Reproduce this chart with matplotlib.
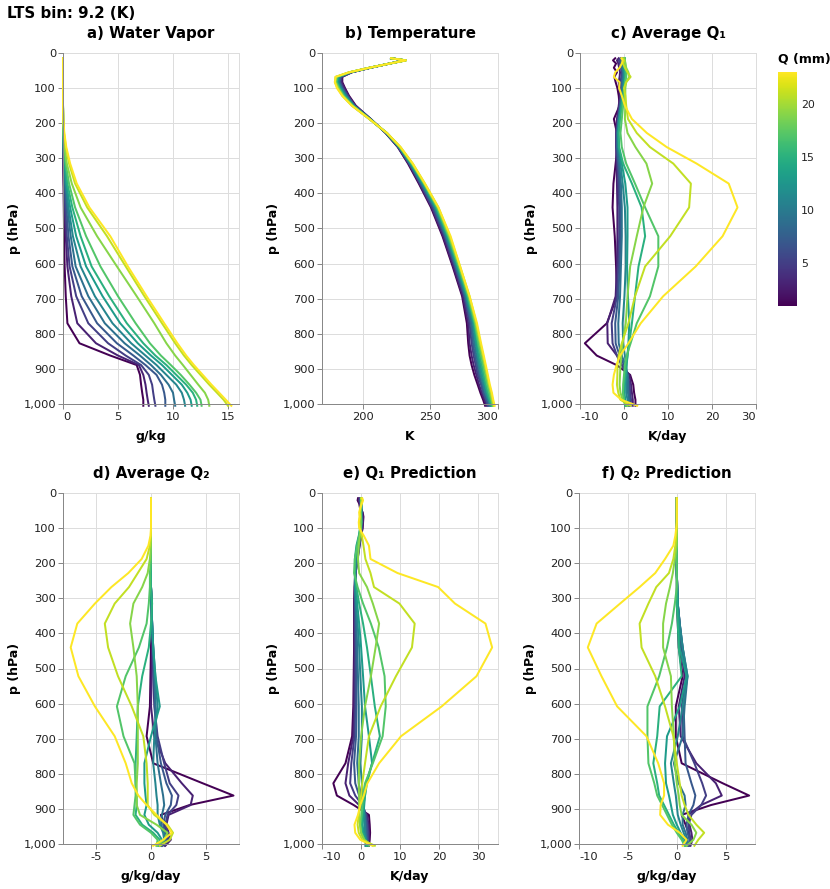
import matplotlib
matplotlib.use("Agg")
import matplotlib.pyplot as plt
from matplotlib.colors import Normalize
from matplotlib.cm import ScalarMappable

plt.rcParams['font.family'] = ['DejaVu Sans']
plt.rcParams['axes.unicode_minus'] = False

# colour variable: Q (mm) of each bin, one profile per bin
q_bins = [1, 3, 5, 7, 9, 11, 13, 15, 17, 19, 21, 23]

# pressure levels (hPa)
p_levels = [15, 21, 30, 42, 55, 68, 83, 100, 122, 150, 188, 228, 268, 315,
            372, 440, 522, 608, 693, 770, 827, 862, 889, 917, 945, 968, 988, 1005]

# a) water vapour, g/kg
qv = [
    [0, 0, 0, 0, 0, 0, 0, 0, 0, 0, 0.0, 0.01, 0.01, 0.02, 0.04, 0.07, 0.1, 0.15, 0.25, 0.4, 1.5, 4.3, 6.7, 7.0, 7.1, 7.2, 7.3, 7.3],
    [0, 0, 0, 0, 0, 0, 0, 0, 0, 0, 0.0, 0.01, 0.02, 0.04, 0.08, 0.15, 0.25, 0.4, 0.75, 1.3, 3.0, 5.0, 6.9, 7.3, 7.5, 7.6, 7.7, 7.8],
    [0, 0, 0, 0, 0, 0, 0, 0, 0, 0, 0.0, 0.01, 0.02, 0.05, 0.1, 0.2, 0.35, 0.6, 1.2, 2.3, 4.1, 5.7, 7.1, 7.8, 8.1, 8.2, 8.3, 8.4],
    [0, 0, 0, 0, 0, 0, 0, 0, 0, 0, 0.0, 0.01, 0.03, 0.07, 0.15, 0.3, 0.5, 0.85, 1.7, 3.1, 4.9, 6.4, 7.5, 8.5, 9.0, 9.2, 9.3, 9.3],
    [0, 0, 0, 0, 0, 0, 0, 0, 0, 0, 0.01, 0.02, 0.04, 0.1, 0.2, 0.4, 0.7, 1.15, 2.3, 3.8, 5.6, 7.0, 8.0, 8.9, 9.6, 10.0, 10.1, 10.2],
    [0, 0, 0, 0, 0, 0, 0, 0, 0, 0, 0.01, 0.02, 0.05, 0.12, 0.25, 0.5, 0.9, 1.6, 2.9, 4.5, 6.2, 7.5, 8.5, 9.4, 10.3, 10.8, 11.0, 11.1],
    [0, 0, 0, 0, 0, 0, 0, 0, 0, 0, 0.01, 0.02, 0.06, 0.15, 0.3, 0.65, 1.2, 2.1, 3.6, 5.2, 6.8, 8.0, 9.0, 9.9, 10.8, 11.3, 11.6, 11.7],
    [0, 0, 0, 0, 0, 0, 0, 0, 0, 0, 0.01, 0.03, 0.08, 0.2, 0.4, 0.85, 1.6, 2.6, 4.2, 5.8, 7.3, 8.4, 9.4, 10.3, 11.2, 11.8, 12.1, 12.2],
    [0, 0, 0, 0, 0, 0, 0, 0, 0, 0, 0.01, 0.04, 0.1, 0.25, 0.55, 1.1, 2.1, 3.4, 5.0, 6.6, 7.9, 8.9, 9.8, 10.7, 11.5, 12.1, 12.5, 12.6],
    [0, 0, 0, 0, 0, 0, 0, 0, 0, 0, 0.02, 0.06, 0.15, 0.35, 0.8, 1.6, 3.1, 4.9, 6.7, 8.3, 9.4, 10.2, 10.9, 11.6, 12.3, 12.9, 13.2, 13.3],
    [0, 0, 0, 0, 0, 0, 0, 0, 0, 0, 0.03, 0.1, 0.25, 0.55, 1.1, 2.2, 4.0, 5.7, 7.4, 9.0, 10.2, 11.0, 11.7, 12.5, 13.3, 14.0, 14.6, 15.0],
    [0, 0, 0, 0, 0, 0, 0, 0, 0, 0, 0.03, 0.12, 0.3, 0.65, 1.25, 2.4, 4.3, 5.9, 7.6, 9.2, 10.4, 11.2, 11.9, 12.7, 13.5, 14.2, 14.8, 15.3],
]

# b) temperature, K
temp = [
    [221, 231, 220, 206, 192, 185, 185, 187, 190, 195, 206, 217, 226, 233.5, 241.5, 250.5, 259, 266.5, 273.5, 277, 278, 279, 280.5, 282.5, 285, 287, 289, 290.5],
    [221, 231, 220, 206, 192, 184.5, 184.5, 186.5, 189.5, 194.5, 206, 217, 226, 234, 242, 251, 259.5, 267, 274, 278, 279, 280.5, 282, 284, 286, 288, 290, 291.5],
    [221, 231, 220, 205.5, 191.5, 184, 183.5, 185.5, 189, 194, 206, 217, 226.5, 234.5, 242.5, 251.5, 260.5, 268, 275, 279, 280.5, 282, 283.5, 285, 287.5, 289, 291, 292.5],
    [221, 231.5, 220, 205.5, 191.5, 183.5, 183, 185, 188.5, 194, 205.5, 217.5, 226.5, 234.5, 243, 252.5, 261, 268.5, 275.5, 280, 281.5, 283, 284.5, 286, 288, 289.5, 291.5, 293],
    [221, 231.5, 220, 205.5, 191, 183, 182.5, 184.5, 188, 193.5, 205.5, 217.5, 227, 235, 243.5, 253, 261.5, 269, 276, 280.5, 282.5, 284, 285.5, 287, 289, 290.5, 292.5, 294],
    [221, 231.5, 220, 205.5, 191, 182.5, 182, 184, 187.5, 193.5, 205.5, 217.5, 227, 235.5, 244, 253.5, 262, 269.5, 276.5, 281.5, 283.5, 285, 286, 287.5, 289.5, 291, 293, 294.5],
    [221, 231.5, 220, 205, 190.5, 182, 181.5, 183.5, 187, 193, 205.5, 217.5, 227, 235.5, 244.5, 254, 262.5, 270, 277, 282, 284, 285.5, 287, 288.5, 290.5, 292, 293.5, 295],
    [221, 232, 220, 205, 190.5, 181.5, 181, 183, 186.5, 193, 205, 218, 227.5, 236, 245, 254.5, 263, 270.5, 277.5, 282.5, 285, 286.5, 288, 289.5, 291, 292.5, 294, 295.5],
    [221, 232, 220, 205, 190.5, 181, 180.5, 182.5, 186, 192.5, 205, 218, 227.5, 236.5, 245.5, 255, 263.5, 271, 278, 283, 285.5, 287.5, 289, 290.5, 292, 293.5, 295, 296],
    [221, 232, 220, 205, 190, 180.5, 180, 182, 185.5, 192.5, 205, 218, 227.5, 236.5, 245.5, 255.5, 264, 271.5, 278.5, 283.5, 286.5, 288.5, 290, 291.5, 293, 294.5, 295.5, 296.5],
    [221, 232, 220, 205, 190, 180, 179.5, 181.5, 185, 192, 205, 218, 228, 237, 246, 256, 264.5, 272, 279, 284, 287, 289, 290.5, 292, 293.5, 295, 296, 297],
    [221, 232, 220, 205, 190, 180, 179.5, 181, 185, 192, 205, 218, 228, 237, 246, 256, 265, 272, 279, 284.5, 287.5, 289.5, 291, 292.5, 294, 295.5, 296.5, 297.5],
]

# c) average Q1, K/day
q1_avg = [
    [-2.0, -2.5, -1.8, -2.3, -1.6, -2.2, -1.9, -1.5, -1.2, -1.0, -2.3, -1.6, -1.5, -1.9, -2.4, -2.6, -2.1, -1.8, -1.6, -3.9, -8.9, -6.2, -1.7, 1.4, 2.1, 2.3, 2.6, 2.6],
    [-1.2, -1.6, -1.3, -1.1, -0.9, -1.0, -1.2, -1.0, -0.9, -1.2, -1.6, -1.8, -1.8, -1.7, -1.6, -1.5, -1.5, -1.6, -1.9, -3.8, -3.7, -1.6, -0.5, 1.2, 1.6, 1.8, 2.0, 2.0],
    [-0.8, -1.2, -0.9, -0.7, -0.5, -0.6, -0.8, -0.7, -0.7, -1.0, -1.4, -1.7, -1.7, -1.5, -1.3, -1.1, -1.1, -1.3, -1.6, -2.8, -2.6, -1.6, -0.5, 0.8, 1.3, 1.4, 1.6, 1.5],
    [-0.5, -0.8, -0.6, -0.5, -0.3, -0.4, -0.5, -0.5, -0.6, -0.9, -1.3, -1.6, -1.6, -1.3, -1.0, -0.8, -0.8, -1.0, -1.3, -2.0, -1.9, -1.0, 0.0, 0.8, 1.0, 1.1, 1.3, 1.2],
    [-0.2, -0.4, -0.5, -0.4, -0.2, -0.2, -0.3, -0.4, -0.5, -0.8, -1.2, -1.5, -1.5, -1.1, -0.7, -0.5, -0.5, -0.7, -0.9, -1.3, -1.2, -0.5, 0.3, 0.8, 0.9, 0.9, 1.1, 1.0],
    [0.0, -0.2, -0.2, -0.2, 0.0, 0.0, -0.1, -0.2, -0.4, -0.7, -1.2, -1.4, -1.3, -0.8, -0.3, 0.2, 0.4, 0.4, 0.1, -0.3, -0.2, 0.2, 0.5, 0.6, 0.5, 0.5, 0.8, 0.6],
    [0.1, 0.0, -0.1, 0.0, 0.2, 0.2, 0.1, 0.0, -0.3, -0.6, -1.0, -1.3, -1.2, -0.5, 0.3, 0.8, 0.8, 0.7, 0.9, 1.2, 1.0, 0.8, 0.6, 0.4, 0.2, 0.1, 0.3, 0.4],
    [0.2, 0.2, 0.1, 0.2, 0.3, 0.3, 0.2, 0.1, -0.2, -0.5, -0.9, -1.2, -1.1, -0.2, 1.8, 4.0, 4.8, 3.3, 2.5, 1.8, 1.2, 0.8, 0.5, 0.3, 0.0, -0.2, -0.1, 0.3],
    [0.1, 0.2, 0.3, 0.4, 0.6, 0.5, 0.3, 0.1, 0.0, -0.2, -0.5, -0.8, -0.5, 0.5, 2.5, 4.8, 7.8, 7.8, 5.9, 2.9, 1.5, 0.6, 0.2, 0.0, -0.2, -0.2, 0.0, 0.5],
    [0.0, 0.2, 0.3, 0.5, 1.0, 1.2, 0.5, 0.3, 0.3, 0.3, 0.2, 0.8, 2.6, 5.1, 6.4, 4.4, 2.9, 1.4, 0.8, 0.4, -0.3, -0.6, -0.8, -0.9, -1.0, -0.8, -0.3, 0.8],
    [-0.3, 0.0, -0.2, 0.2, 0.8, 1.5, 0.5, 0.0, 0.3, 0.5, 0.9, 2.9, 5.9, 11.2, 15.2, 14.8, 10.5, 4.8, 2.5, 1.0, -0.5, -1.2, -1.5, -1.5, -1.6, -1.3, -0.8, 1.5],
    [-0.6, -0.3, -0.5, -1.0, -2.0, -2.3, -1.0, -1.1, -0.5, 0.2, 1.8, 5.2, 9.7, 16.5, 23.8, 25.8, 22.4, 16.3, 8.9, 3.8, 1.0, -0.9, -1.7, -2.3, -2.6, -2.4, -0.6, 3.0],
]

# d) average Q2, g/kg/day
q2_avg = [
    [0, 0, 0, 0, 0, 0, 0, 0, 0, 0, 0, 0, 0, 0.05, 0.05, 0.0, -0.05, -0.1, -0.4, 0.2, 4.7, 7.5, 3.5, 0.9, 1.2, 1.4, 1.6, 1.0],
    [0, 0, 0, 0, 0, 0, 0, 0, 0, 0, 0, 0, 0, 0.05, 0.1, 0.1, 0.05, 0.0, 0.3, 1.3, 2.8, 3.8, 3.6, 1.6, 1.4, 1.6, 1.8, 1.3],
    [0, 0, 0, 0, 0, 0, 0, 0, 0, 0, 0, 0, 0, 0.05, 0.1, 0.15, 0.2, 0.3, 0.6, 1.2, 1.7, 2.5, 2.3, 1.5, 1.3, 1.5, 1.6, 1.2],
    [0, 0, 0, 0, 0, 0, 0, 0, 0, 0, 0, 0, 0, 0.05, 0.1, 0.2, 0.3, 0.4, 0.5, 0.9, 1.4, 1.9, 1.8, 1.3, 1.1, 1.3, 1.4, 1.0],
    [0, 0, 0, 0, 0, 0, 0, 0, 0, 0, 0, 0, 0, 0.05, 0.1, 0.2, 0.3, 0.4, 0.4, 0.6, 0.9, 1.1, 1.2, 1.0, 0.9, 1.2, 1.3, 0.9],
    [0, 0, 0, 0, 0, 0, 0, 0, 0, 0, 0, 0, 0, 0.05, 0.1, 0.2, 0.4, 0.6, 0.3, 0.2, 0.4, 0.5, 0.6, 0.6, 0.8, 1.1, 1.2, 0.8],
    [0, 0, 0, 0, 0, 0, 0, 0, 0, 0, 0, 0, 0, 0.05, 0.1, 0.2, 0.4, 0.8, 0.0, -0.6, -0.6, -0.5, -0.4, -0.6, -0.2, 0.6, 1.0, 0.7],
    [0, 0, 0, 0, 0, 0, 0, 0, 0, 0, 0, 0, 0, 0.1, 0.0, -0.2, -0.8, -1.2, -1.3, -1.4, -1.4, -1.3, -1.3, -1.4, -0.8, 0.2, 0.8, 0.6],
    [0, 0, 0, 0, 0, 0, 0, 0, 0, 0, 0, -0.1, -0.1, -0.2, -0.4, -1.1, -2.3, -3.1, -2.5, -1.5, -1.4, -1.4, -1.5, -1.6, -1.0, 0.0, 0.6, 0.5],
    [0, 0, 0, 0, 0, 0, 0, 0, 0, 0, -0.1, -0.3, -0.8, -1.6, -1.9, -1.6, -1.3, -1.2, -1.2, -1.2, -1.3, -1.3, -1.3, -1.0, 0.5, 1.5, 1.2, 0.5],
    [0, 0, 0, 0, 0, 0, 0, 0, 0, -0.1, -0.4, -1.2, -2.0, -3.3, -4.2, -3.9, -3.0, -1.75, -0.7, -0.4, -0.3, -0.3, -0.3, 0.3, 1.5, 2.0, 1.7, 0.8],
    [0, 0, 0, 0, 0, 0, 0, 0, -0.05, -0.24, -0.85, -2.06, -3.6, -5.1, -6.7, -7.3, -6.6, -5.1, -3.3, -2.3, -1.75, -1.15, -0.4, 0.5, 1.4, 1.9, 1.1, 0.2],
]

# e) Q1 prediction, K/day
q1_pred = [
    [-0.8, -0.9, -0.5, -0.3, 0.4, 0.6, 0.5, 0.4, 0.0, -0.5, -1.0, -1.5, -1.7, -1.8, -1.8, -1.8, -1.9, -2.0, -2.3, -4.0, -7.1, -6.2, -1.9, 2.0, 2.2, 2.3, 2.2, 2.0],
    [-0.5, -0.6, -0.3, -0.2, 0.3, 0.4, 0.4, 0.3, 0.0, -0.4, -0.9, -1.4, -1.6, -1.7, -1.7, -1.7, -1.8, -1.8, -2.0, -3.3, -4.0, -3.0, -0.5, 1.5, 1.9, 2.0, 2.0, 1.8],
    [-0.3, -0.4, -0.2, -0.1, 0.2, 0.3, 0.3, 0.2, -0.1, -0.4, -0.9, -1.4, -1.5, -1.6, -1.6, -1.5, -1.5, -1.5, -1.7, -2.5, -2.8, -1.5, 0.3, 1.3, 1.6, 1.8, 1.8, 1.6],
    [-0.1, -0.2, -0.1, 0.0, 0.2, 0.2, 0.2, 0.1, -0.2, -0.5, -1.0, -1.4, -1.5, -1.5, -1.4, -1.3, -1.2, -1.2, -1.3, -1.8, -1.5, -0.5, 0.5, 1.1, 1.4, 1.5, 1.6, 1.4],
    [0.0, -0.1, 0.0, 0.1, 0.1, 0.1, 0.1, 0.0, -0.3, -0.6, -1.1, -1.5, -1.5, -1.4, -1.2, -1.0, -0.8, -0.6, -0.6, -1.0, -0.6, 0.0, 0.6, 0.9, 1.1, 1.2, 1.4, 1.2],
    [0.1, 0.0, 0.1, 0.1, 0.1, 0.0, 0.0, -0.1, -0.4, -0.8, -1.3, -1.6, -1.6, -1.3, -0.9, -0.5, -0.2, 0.2, 0.2, -0.2, 0.2, 0.5, 0.7, 0.8, 0.9, 1.0, 1.2, 1.1],
    [0.1, 0.1, 0.1, 0.0, 0.0, -0.1, -0.1, -0.2, -0.6, -1.2, -1.6, -1.6, -1.3, -1.0, -0.5, 0.0, 0.5, 1.0, 2.0, 2.8, 1.3, 1.0, 0.8, 0.6, 0.4, 0.6, 1.2, 1.3],
    [0.0, 0.1, 0.0, 0.0, -0.1, -0.1, -0.2, -0.3, -0.5, -1.0, -1.5, -1.6, -1.2, -0.5, 0.5, 1.5, 2.5, 3.5, 4.8, 2.8, 1.5, 1.0, 0.6, 0.3, 0.1, 0.3, 0.9, 1.5],
    [0.1, 0.0, 0.1, 0.0, -0.1, 0.0, 0.1, -0.1, -0.5, -1.0, -1.6, -1.8, -0.9, 0.5, 2.5, 4.5, 6.0, 6.3, 5.5, 3.0, 1.0, 0.5, 0.3, 0.1, -0.2, 0.0, 0.8, 2.0],
    [0.0, 0.1, 0.0, -0.1, -0.2, -0.1, -0.2, -0.1, -0.3, -0.6, -0.8, -0.5, 1.5, 3.0, 4.6, 3.7, 2.5, 1.0, 0.0, -0.5, -0.6, -0.5, -0.5, -0.4, -0.3, 0.0, 0.8, 3.0],
    [0.0, 0.3, 0.0, -0.2, -0.3, -0.3, -0.5, -0.3, 0.2, 0.6, 1.1, 2.4, 3.3, 9.8, 13.7, 13.0, 8.9, 5.0, 2.0, 1.0, 0.3, 0.0, -0.3, -0.6, -0.9, -0.6, 0.3, 3.5],
    [0.3, 0.5, 0.2, -0.2, -0.5, -0.4, -0.6, -0.5, 0.7, 2.0, 2.4, 9.3, 19.7, 24.0, 31.8, 33.5, 29.5, 20.6, 10.2, 4.6, 1.6, 0.7, -0.2, -0.8, -1.7, -1.5, -0.2, 2.9],
]

# f) Q2 prediction, g/kg/day
q2_pred = [
    [0, 0, 0, 0, 0, 0, 0, 0, 0, 0, 0, 0, 0, 0.0, 0.1, 0.2, 0.6, -0.1, -0.1, 0.5, 4.7, 7.4, 3.5, 0.5, 0.9, 1.2, 1.4, 1.2],
    [0, 0, 0, 0, 0, 0, 0, 0, 0, 0, 0, 0, 0.05, 0.1, 0.2, 0.4, 0.8, 0.2, 0.4, 2.0, 4.0, 4.6, 2.5, 1.2, 1.3, 1.5, 1.6, 1.4],
    [0, 0, 0, 0, 0, 0, 0, 0, 0, 0, 0, 0, 0.05, 0.1, 0.3, 0.5, 1.0, 0.5, 0.6, 1.8, 2.6, 3.0, 2.5, 1.5, 1.2, 1.3, 1.4, 1.3],
    [0, 0, 0, 0, 0, 0, 0, 0, 0, 0, 0, 0, 0.05, 0.1, 0.3, 0.6, 1.0, 0.7, 0.8, 0.9, 1.5, 1.9, 1.7, 1.2, 1.0, 1.1, 1.3, 1.2],
    [0, 0, 0, 0, 0, 0, 0, 0, 0, 0, 0, 0, 0.05, 0.1, 0.3, 0.6, 1.1, 0.8, 0.6, -0.3, 0.2, 0.8, 0.9, 0.6, 0.6, 0.9, 1.1, 1.0],
    [0, 0, 0, 0, 0, 0, 0, 0, 0, 0, 0, 0, 0.05, 0.1, 0.3, 0.6, 1.1, 0.6, 0.1, -0.6, -0.3, -0.1, 0.0, 0.1, 0.4, 0.7, 1.0, 1.0],
    [0, 0, 0, 0, 0, 0, 0, 0, 0, 0, 0, 0, 0.05, 0.1, 0.2, 0.3, 1.0, 0.3, -1.0, -1.2, -1.1, -0.8, -0.6, -0.4, 0.0, 0.4, 0.8, 0.9],
    [0, 0, 0, 0, 0, 0, 0, 0, 0, 0, 0, 0, 0.0, 0.0, 0.1, 0.2, 0.5, -1.75, -2.0, -2.4, -2.0, -1.8, -1.3, -0.8, -0.3, 0.2, 0.6, 0.8],
    [0, 0, 0, 0, 0, 0, 0, 0, 0, 0, 0, 0, 0.0, -0.2, -0.5, -1.0, -1.8, -3.0, -3.0, -2.9, -2.3, -2.0, -1.5, -1.0, -0.5, 0.0, 0.5, 0.8],
    [0, 0, 0, 0, 0, 0, 0, 0, 0, 0, -0.2, -0.4, -0.7, -1.1, -1.4, -1.4, -0.6, -0.5, -0.3, -0.2, 0.0, 0.2, 0.3, 0.5, 1.5, 2.0, 1.7, 1.0],
    [0, 0, 0, 0, 0, 0, 0, 0, -0.05, -0.15, -0.35, -0.8, -2.1, -2.9, -3.8, -3.6, -2.2, -1.2, -0.35, 0.0, 0.3, 0.5, 0.8, 1.2, 2.0, 2.8, 2.2, 1.8],
    [0, 0, 0, 0, 0, 0, 0, -0.05, -0.15, -0.35, -1.2, -2.2, -3.8, -5.8, -8.2, -9.1, -7.7, -6.1, -3.1, -1.9, -1.3, -1.3, -1.65, -1.7, -0.9, 0.3, 1.0, 0.6],
]

panel_titles = ["a) Water Vapor", "b) Temperature", "c) Average Q\u2081",
                "d) Average Q\u2082", "e) Q\u2081 Prediction", "f) Q\u2082 Prediction"]
panel_units = ["g/kg", "K", "K/day", "g/kg/day", "K/day", "g/kg/day"]
panel_xlims = [(0, 16), (170, 300), (-10, 30), (-8, 8), (-10, 35), (-10, 8)]
panel_xticks = [[0, 5, 10, 15], [200, 250, 300], [-10, 0, 10, 20, 30],
                [-5, 0, 5], [-10, 0, 10, 20, 30], [-10, -5, 0, 5]]
panel_data = [qv, temp, q1_avg, q2_avg, q1_pred, q2_pred]

W, H = 830, 889
fig = plt.figure(figsize=(W / 100, H / 100), dpi=100)

# axes boxes in pixels: left, top (width/height shared)
boxes = [(63, 53), (322, 53), (580, 53), (63, 493), (322, 493), (579, 493)]
bw, bh = 176, 351

norm = Normalize(1, 23)
cmap = plt.cm.viridis
GRID = '#dddddd'
DOMAIN = '#888888'
PX = 0.72  # points per pixel
TICK_FS = 11.5 * PX
AXT_FS = 12.5 * PX
TITLE_FS = 15 * PX

for i, (x0, y0) in enumerate(boxes):
    ax = fig.add_axes([x0 / W, 1 - (y0 + bh) / H, bw / W, bh / H])
    for q, prof in zip(q_bins, panel_data[i]):
        ax.plot(prof, p_levels, color=cmap(norm(q)), lw=2 * PX,
                clip_on=False, solid_joinstyle='round', zorder=3)
    ax.set_xlim(*panel_xlims[i])
    ax.set_ylim(1000, 0)

    ticks = panel_xticks[i]
    ax.set_xticks(ticks, labels=[str(t) for t in ticks])
    lo, hi = panel_xlims[i]
    # labels at the very edges are flushed inwards
    for t, lab in zip(ticks, ax.get_xticklabels()):
        if t == lo:
            lab.set_horizontalalignment('left')
        elif t == hi:
            lab.set_horizontalalignment('right')
    yt = list(range(0, 1001, 100))
    ax.set_yticks(yt, labels=[f"{v:,}" for v in yt])

    ax.grid(True, color=GRID, lw=1 * PX, zorder=0)
    ax.set_axisbelow(True)
    for s in ['top', 'right']:
        ax.spines[s].set_color(GRID)
        ax.spines[s].set_linewidth(1 * PX)
    for s in ['left', 'bottom']:
        ax.spines[s].set_color(DOMAIN)
        ax.spines[s].set_linewidth(1 * PX)
        ax.spines[s].set_zorder(4)
    ax.tick_params(length=5 * PX, width=1 * PX, color=DOMAIN,
                   labelsize=TICK_FS, pad=2 * PX, labelcolor='#222222')
    ax.tick_params(axis='x', pad=3.5 * PX)

    ax.set_title(panel_titles[i], fontsize=TITLE_FS, fontweight='bold', pad=10.5)
    ax.set_xlabel(panel_units[i], fontsize=AXT_FS, fontweight='bold', labelpad=5.5)
    ax.set_ylabel("p (hPa)", fontsize=AXT_FS, fontweight='bold')
    ax.yaxis.set_label_coords(-42 / bw, 0.5)

fig.text(7 / W, 1 - 18 / H, "LTS bin: 9.2 (K)", fontsize=TITLE_FS,
         fontweight='bold', ha='left', va='baseline')

# colour legend
cax = fig.add_axes([778 / W, 1 - 306 / H, 19 / W, 234 / H])
cb = fig.colorbar(ScalarMappable(norm=norm, cmap=cmap), cax=cax)
cb.outline.set_visible(False)
cb.set_ticks([5, 10, 15, 20])
cax.tick_params(length=0, labelsize=11 * PX, pad=3, labelcolor='#222222')
fig.text(778 / W, 1 - 63 / H, "Q (mm)", fontsize=AXT_FS, fontweight='bold',
         ha='left', va='baseline')

fig.savefig("out.png", dpi=100)
